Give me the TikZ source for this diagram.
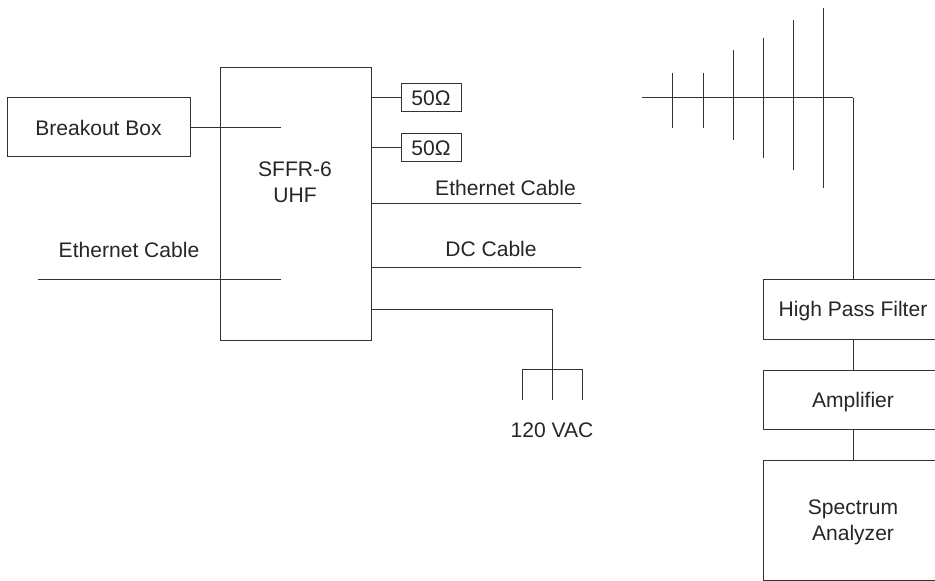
\documentclass[tikz,border=0pt]{standalone}
\usepackage{fontspec}
\setmainfont{Liberation Sans}
\begin{document}
\begin{tikzpicture}[x=0.75pt,y=-0.75pt,
every node/.style={font=\fontsize{15.8}{19.5}\selectfont,text=black!85,inner sep=0pt,align=center},
wire/.style={draw=black!80,line width=0.75pt},
boxnode/.style={draw=black!80,line width=0.75pt,text depth=0pt,minimum width=#1*0.75pt},
boxnode/.default=180]
\path[use as bounding box,clip] (0,0) rectangle (935,581);
% left side
\node[boxnode=183,minimum height=44.25pt] (breakout) at (98.5,127.5) {Breakout Box};
\node[boxnode=151,minimum height=204pt] (sffr) at (295.5,204) {};
\node at (295,182) {SFFR-6\\UHF};
\node[boxnode=60,minimum height=21pt] (loada) at (431,98) {50Ω};
\node[boxnode=60,minimum height=21pt] (loadb) at (431,148) {50Ω};
\coordinate (breakoutend) at (281,128);
\coordinate (ethinstart) at (38,279);
\coordinate (ethinend) at (281,279);
\coordinate (ethoutend) at (581,203.6);
\coordinate (dcend) at (581,267);
\coordinate (acbend) at (552,309);
\coordinate (actop) at (552,369);
\coordinate (acleft) at (522,369);
\coordinate (acright) at (582,369);
\coordinate (acmid) at (552,400);
\coordinate (acleftend) at (522,400);
\coordinate (acrightend) at (582,400);
\draw[wire] (breakout.east |- breakoutend) -- (breakoutend);
\draw[wire] (sffr.east |- loada.west) -- (loada.west);
\draw[wire] (sffr.east |- loadb.west) -- (loadb.west);
\draw[wire] (ethinstart) -- (ethinend);
\draw[wire] (sffr.east |- ethoutend) -- (ethoutend);
\draw[wire] (sffr.east |- dcend) -- (dcend);
\draw[wire] (sffr.east |- acbend) -- (acbend) -- (acmid);
\draw[wire] (acleftend) -- (acleft) -- (acright) -- (acrightend);
\node (ethinlabel) at (129,250) {Ethernet Cable};
\node (ethoutlabel) at (505.5,188) {Ethernet Cable};
\node (dclabel) at (491,249) {DC Cable};
\node (aclabel) at (552,430) {120 VAC};
% antenna
\coordinate (feedstart) at (642,98);
\coordinate (feedbend) at (853,98);
\draw[wire] (feedstart) -- (feedbend);
\foreach \x/\ytop/\ybot in {672/73/128,703/73/128,733/50/140,763/38/158,793/20/170,823/8/188}
  \draw[wire] (\x,\ytop) -- (\x,\ybot);
% right side
\node[boxnode,minimum height=45pt] (filter) at (853,309) {High Pass Filter};
\node[boxnode,minimum height=44.25pt] (amp) at (853,399.5) {Amplifier};
\node[boxnode,minimum height=90pt] (analyzer) at (853,520) {Spectrum\\Analyzer};
\draw[wire] (feedbend) -- (filter.north);
\draw[wire] (filter) -- (amp);
\draw[wire] (amp) -- (analyzer);
\end{tikzpicture}
\end{document}
